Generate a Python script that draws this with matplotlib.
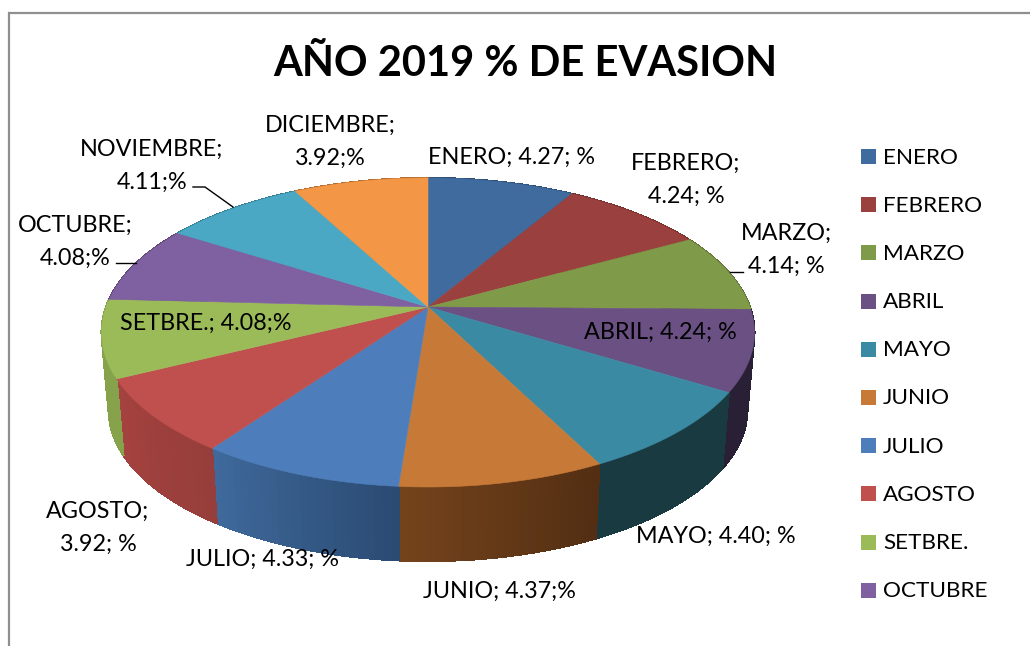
import numpy as np
import matplotlib
matplotlib.use("Agg")
import matplotlib.pyplot as plt
from matplotlib.colors import to_rgb
from matplotlib.patches import Polygon, Rectangle

plt.rcParams["font.family"] = ["Lato", "DejaVu Sans"]

# --- datos ---
months = ["ENERO", "FEBRERO", "MARZO", "ABRIL", "MAYO", "JUNIO", "JULIO",
          "AGOSTO", "SETBRE.", "OCTUBRE", "NOVIEMBRE", "DICIEMBRE"]
values = [4.27, 4.24, 4.14, 4.24, 4.40, 4.37, 4.33, 3.92, 4.08, 4.08, 4.11, 3.92]
legend_months = months[:10]

top_colors = ["#3f6b9f", "#9a403e", "#7f9a48", "#6a5083", "#3b8aa3", "#c77a37",
              "#4d7ebb", "#bf504e", "#9bbb59", "#7f60a0", "#4aa8c4", "#f39645"]
wall_light = ["#2f4f75", "#72302e", "#5e7235", "#2a2035", "#1a3a42", "#74431c",
              "#3f6a9c", "#a5423f", "#86a34c", "#5e4776", "#377c91", "#b36f33"]
wall_dark = ["#2f4f75", "#72302e", "#5e7235", "#2a2035", "#1a3a42", "#522e12",
             "#2b4a72", "#963e3b", "#86a34c", "#5e4776", "#377c91", "#b36f33"]

# --- geometria del disco en perspectiva ---
CX, CY = 428, 307
RX, RY, K = 322, 150.3, 0.165
BASE_SCALE, BASE_DROP = 0.978, 78


def rim(theta, base=False):
    u, v = np.sin(theta), np.cos(theta)
    f = 1 / (1 + K * v)
    s = BASE_SCALE if base else 1.0
    drop = BASE_DROP if base else 0
    return CX + s * RX * u * f, CY + drop - s * RY * v * f


fig = plt.figure(figsize=(10.30, 6.46), dpi=100)
ax = fig.add_axes([0, 0, 1, 1])
ax.set_xlim(0, 1030)
ax.set_ylim(646, 0)
ax.axis("off")

edges = np.radians(np.concatenate([[0], np.cumsum(values)]) / sum(values) * 360)

# paredes laterales: primero la silueta suave, luego el degradado sin antialias
for i in range(len(values)):
    steps = np.linspace(edges[i], edges[i + 1], 25)
    c_low, c_high = np.array(to_rgb(wall_dark[i])), np.array(to_rgb(wall_light[i]))
    xt, yt = rim(steps)
    xb, yb = rim(steps, base=True)
    pts = np.column_stack([np.r_[xt, xb[::-1]], np.r_[yt, yb[::-1]]])
    mid = (c_low + c_high) / 2
    ax.add_patch(Polygon(pts, closed=True, fc=mid, ec=mid, lw=0.5, zorder=2))
    for j in range(len(steps) - 1):
        pair = steps[j:j + 2]
        xt, yt = rim(pair)
        xb, yb = rim(pair, base=True)
        pts = np.column_stack([np.r_[xt, xb[::-1]], np.r_[yt, yb[::-1]]])
        c = c_low + (c_high - c_low) * (j + 0.5) / (len(steps) - 1)
        ax.add_patch(Polygon(pts, closed=True, fc=c, ec=c, lw=0.8, antialiased=False, zorder=2))

# cara superior
for i in range(len(values)):
    xs, ys = rim(np.linspace(edges[i], edges[i + 1], 60))
    pts = np.column_stack([np.r_[CX, xs], np.r_[CY, ys]])
    ax.add_patch(Polygon(pts, closed=True, fc=top_colors[i], ec=top_colors[i], lw=0.4, zorder=3))

# marco del grafico
ax.plot([9, 9, 1030], [646, 13, 13], color="#8f8f8f", lw=1.6, zorder=1, solid_joinstyle="miter")

ax.text(525, 64, "AÑO 2019 % DE EVASION", fontsize=30, fontweight="bold", ha="center", va="center", color="black")

# etiquetas
label_size = 16.8
labels = [
    (511, 157, "ENERO; 4.27; %"), (686, 163, "FEBRERO;"), (686, 196, "4.24; %"),
    (786, 233, "MARZO;"), (786, 266, "4.14; %"), (660, 332, "ABRIL; 4.24; %"),
    (716, 536, "MAYO; 4.40; %"), (499, 591, "JUNIO; 4.37;%"), (263, 559, "JULIO; 4.33; %"),
    (98, 511, "AGOSTO;"), (98, 544, "3.92; %"), (206, 323, "SETBRE.; 4.08;%"),
    (75, 225, "OCTUBRE;"), (75, 258, "4.08;%"), (152, 149, "NOVIEMBRE;"),
    (152, 182, "4.11;%"), (330, 125, "DICIEMBRE;"), (330, 158, "3.92;%"),
]
for x, y, txt in labels:
    ax.text(x, y, txt, fontsize=label_size, ha="center", va="center", color="black", zorder=5)

# lineas guia
ax.plot([193, 205, 233], [187, 187, 207], color="black", lw=1, zorder=4)
ax.plot([116, 136], [263, 263], color="black", lw=1, zorder=4)
ax.plot([730, 743], [272, 272], color="black", lw=1, zorder=4)

# leyenda
for i, name in enumerate(legend_months):
    y = 156.5 + i * 48.2
    ax.add_patch(Rectangle((861, y - 7.5), 15, 15, fc=top_colors[i], ec="none", zorder=4))
    ax.text(883, y + 1, name, fontsize=16.2, ha="left", va="center", color="black", zorder=5)

fig.savefig("out.png", dpi=100, facecolor="white")
